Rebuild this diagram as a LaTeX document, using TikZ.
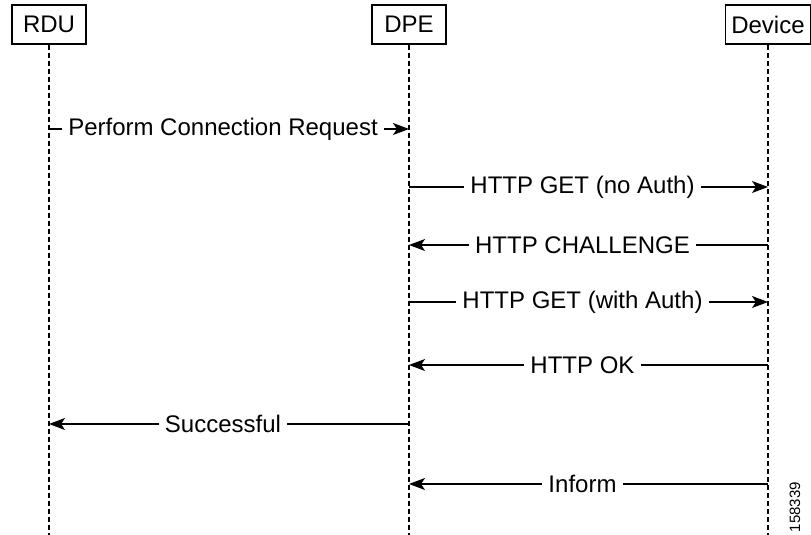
\documentclass[tikz,border=0pt]{standalone}
\usepackage{fontspec}
\setmainfont{Liberation Sans}
\usepackage{tikz}
\usetikzlibrary{positioning, arrows.meta}
\tikzstyle{actor}=[rectangle, draw=black, line width=.55pt, minimum width=37pt, minimum height=19.5pt, inner xsep=2.75pt, font=\fontsize{12}{14}\selectfont]
\tikzstyle{life}=[line width=.65pt, dash pattern=on 2.5pt off 1.5pt]
\tikzstyle{msg}=[line width=.55pt, -{Stealth[length=8pt,width=6pt,inset=2pt]}]
\tikzstyle{lbl}=[fill=white, inner xsep=3pt, inner ysep=1pt, xshift=-3pt, font=\fontsize{12}{14}\selectfont]

\begin{document}
\begin{tikzpicture}[x=.5pt, y=-.5pt]
            \useasboundingbox (0,0) rectangle (811,535);
            %actors and their lifelines
            \node[actor](rdu) at (49,24.5){RDU};
            \node[actor](dpe) at (409,24.5){DPE};
            \node[actor](dev) at (768,24.5){Device};
            \foreach \a in {rdu,dpe,dev}{
                \coordinate (\a-end) at (\a |- 0,535);
                \draw[life] (\a) -- (\a-end);
            }
            %message end points on the lifelines
            \foreach \n/\y in {1/129,2/187,3/245,4/302,5/365,6/424,7/484}{
                \coordinate (rdu\n) at (rdu |- 0,\y);
                \coordinate (dpe\n) at (dpe |- 0,\y);
                \coordinate (dev\n) at (dev |- 0,\y);
            }
            \draw[msg] (rdu1) -- node[lbl]{Perform Connection Request} (dpe1);
            \draw[msg] (dpe2) -- node[lbl]{HTTP GET (no Auth)} (dev2);
            \draw[msg] (dev3) -- node[lbl]{HTTP CHALLENGE} (dpe3);
            \draw[msg] (dpe4) -- node[lbl]{HTTP GET (with Auth)} (dev4);
            \draw[msg] (dev5) -- node[lbl]{HTTP OK} (dpe5);
            \draw[msg] (dpe6) -- node[lbl]{Successful} (rdu6);
            \draw[msg] (dev7) -- node[lbl]{Inform} (dpe7);
            \node[rotate=90, font=\fontsize{7.5}{9}\selectfont](fig) at (795,507){158339};
        \end{tikzpicture}
\end{document}
